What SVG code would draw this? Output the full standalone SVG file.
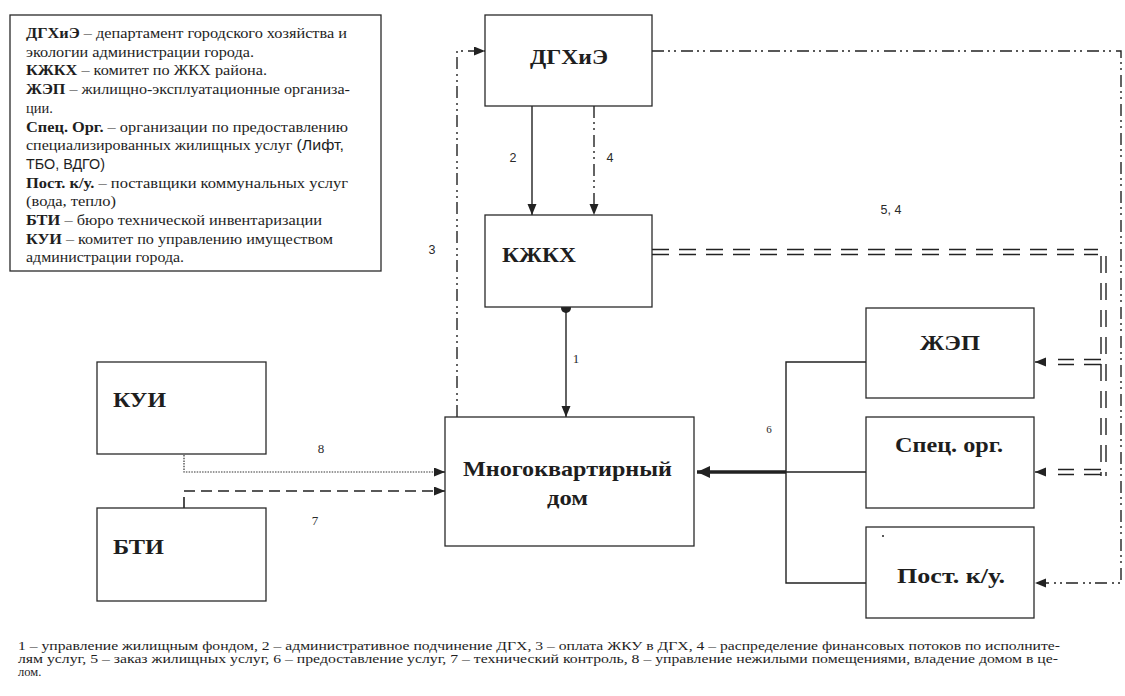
<svg xmlns="http://www.w3.org/2000/svg" width="1125" height="696" viewBox="0 0 1125 696">
<style>
.box{fill:#fff;stroke:#2a2a2a;stroke-width:1.3}
.b{font-weight:bold}
.ln{fill:none;stroke:#222;stroke-width:1.4}
.dd{fill:none;stroke:#222;stroke-width:1.4;stroke-dasharray:12 4 2 4 2 5}
.dbl{fill:none;stroke:#222;stroke-width:1.6;stroke-dasharray:17 10}
.dblv{fill:none;stroke:#222;stroke-width:1.4;stroke-dasharray:17 10}
.dot{fill:none;stroke:#333;stroke-width:1.2;stroke-dasharray:1.5 1.2}
.dash{fill:none;stroke:#222;stroke-width:1.6;stroke-dasharray:11 6}
</style>
<defs>
<marker id="ah" markerUnits="userSpaceOnUse" markerWidth="12" markerHeight="10" refX="11" refY="4.5" orient="auto">
<path d="M0,0 L11,4.5 L0,9 z" fill="#222"/>
</marker>
<marker id="ahb" markerUnits="userSpaceOnUse" markerWidth="14" markerHeight="12" refX="13" refY="6" orient="auto">
<path d="M0,0 L13,6 L0,12 z" fill="#222"/>
</marker>
</defs>
<rect width="1125" height="696" fill="#fff"/>

<g id="legend" font-family="Liberation Serif, serif" font-size="14.5" fill="#1e1e1e">
<rect x="10" y="15" width="371" height="256" class="box"/>
<text x="26" y="38" textLength="321" lengthAdjust="spacingAndGlyphs"><tspan font-weight="bold">ДГХиЭ</tspan> – департамент городского хозяйства и</text>
<text x="26" y="56.7" textLength="228" lengthAdjust="spacingAndGlyphs">экологии администрации города.</text>
<text x="26" y="75.4" textLength="241" lengthAdjust="spacingAndGlyphs"><tspan font-weight="bold">КЖКХ</tspan> – комитет по ЖКХ района.</text>
<text x="26" y="94.1" textLength="324" lengthAdjust="spacingAndGlyphs"><tspan font-weight="bold">ЖЭП</tspan> – жилищно-эксплуатационные организа-</text>
<text x="26" y="112.8">ции.</text>
<text x="26" y="131.5" textLength="322" lengthAdjust="spacingAndGlyphs"><tspan font-weight="bold">Спец. Орг.</tspan> – организации по предоставлению</text>
<text x="26" y="150.2" textLength="318" lengthAdjust="spacingAndGlyphs">специализированных жилищных услуг <tspan font-family="Liberation Sans, sans-serif">(Лифт,</tspan></text>
<text x="26" y="168.9" font-family="Liberation Sans, sans-serif" textLength="79" lengthAdjust="spacingAndGlyphs">ТБО, ВДГО)</text>
<text x="26" y="187.6" textLength="322" lengthAdjust="spacingAndGlyphs"><tspan font-weight="bold">Пост.  к/у.</tspan> – поставщики коммунальных услуг</text>
<text x="26" y="206.3" textLength="90" lengthAdjust="spacingAndGlyphs">(вода, тепло)</text>
<text x="26" y="225" textLength="296" lengthAdjust="spacingAndGlyphs"><tspan font-weight="bold">БТИ</tspan> – бюро технической инвентаризации</text>
<text x="26" y="243.7" textLength="307" lengthAdjust="spacingAndGlyphs"><tspan font-weight="bold">КУИ</tspan> – комитет по управлению имуществом</text>
<text x="26" y="262.4" textLength="158" lengthAdjust="spacingAndGlyphs">администрации города.</text>
</g>

<g id="connectors">
<path class="ln" d="M532,106 V215" marker-end="url(#ah)"/>
<path class="dd" d="M594,106 V215" marker-end="url(#ah)"/>
<circle cx="566" cy="308" r="5" fill="#222"/>
<path class="ln" d="M566,308 V417" marker-end="url(#ah)"/>
<path class="dd" d="M457,417 V51 H485" marker-end="url(#ah)"/>
<path class="dd" d="M652,51 H1121 V583 H1035" marker-end="url(#ah)"/>
<path class="dbl" d="M652,249.5 H1098"/>
<path class="dbl" d="M652,254.5 H1098"/>
<path class="dblv" d="M1101,256 V476"/>
<path class="dblv" d="M1106,256 V476"/>
<path class="dbl" d="M1101,359.5 H1058"/>
<path class="dbl" d="M1101,364.5 H1058"/>
<path class="dbl" d="M1101,469.5 H1058"/>
<path class="dbl" d="M1101,474.5 H1058"/>
<path class="ln" d="M1046,362 H1035" marker-end="url(#ah)"/>
<path class="ln" d="M1046,472 H1035" marker-end="url(#ah)"/>
<path class="ln" d="M866,362 H786 V583 H866 M786,472 H866"/>
<path fill="none" stroke="#222" stroke-width="3.5" d="M786,472 H697" marker-end="url(#ahb)"/>
<path class="dot" d="M184,455 V472 H435"/>
<path class="ln" d="M436,472 H445" marker-end="url(#ah)"/>
<path class="dash" d="M184,508 V491 H436"/>
<path class="ln" d="M436,491 H445" marker-end="url(#ah)"/>
</g>

<g id="labels" fill="#2a2a2a" text-anchor="middle">
<g font-family="Liberation Sans, sans-serif" font-size="12.5">
<text x="513" y="162">2</text>
<text x="610" y="162">4</text>
<text x="432" y="254">3</text>
<text x="891" y="214">5, 4</text>
</g>
<g font-family="Liberation Serif, serif" font-size="13">
<text x="576" y="363">1</text>
<text x="769" y="433" font-size="11">6</text>
<text x="321" y="453">8</text>
<text x="315" y="525">7</text>
</g>
</g>

<g id="nodes" font-family="Liberation Serif, serif" font-weight="bold" font-size="22" fill="#1e1e1e">
<g id="n-dgh">
<rect x="485" y="15" width="167" height="91" class="box"/>
<text x="530" y="64" textLength="78" lengthAdjust="spacingAndGlyphs">ДГХиЭ</text>
</g>
<g id="n-kjkh">
<rect x="485" y="215" width="167" height="92" class="box"/>
<text x="502" y="262" textLength="74" lengthAdjust="spacingAndGlyphs">КЖКХ</text>
</g>
<g id="n-dom">
<rect x="445" y="417" width="249" height="129" class="box"/>
<text x="463" y="476" textLength="209" lengthAdjust="spacingAndGlyphs">Многоквартирный</text>
<text x="547" y="505" textLength="41" lengthAdjust="spacingAndGlyphs">дом</text>
</g>
<g id="n-kui">
<rect x="97" y="362" width="169" height="92" class="box"/>
<text x="113" y="407" textLength="53" lengthAdjust="spacingAndGlyphs">КУИ</text>
</g>
<g id="n-bti">
<rect x="97" y="508" width="169" height="93" class="box"/>
<text x="113" y="554" textLength="51" lengthAdjust="spacingAndGlyphs">БТИ</text>
</g>
<g id="n-jep">
<rect x="866" y="308" width="168" height="90" class="box"/>
<text x="920" y="350" textLength="60" lengthAdjust="spacingAndGlyphs">ЖЭП</text>
</g>
<g id="n-spec">
<rect x="866" y="417" width="168" height="91" class="box"/>
<text x="895" y="452" textLength="108" lengthAdjust="spacingAndGlyphs">Спец. орг.</text>
</g>
<g id="n-post">
<rect x="866" y="527" width="168" height="91" class="box"/>
<circle cx="883" cy="536" r="1" fill="#222"/>
<text x="897" y="583" textLength="108" lengthAdjust="spacingAndGlyphs">Пост. к/у.</text>
</g>
</g>

<g id="footer" font-family="Liberation Serif, serif" font-size="12.5" fill="#1e1e1e">
<text x="18" y="650" textLength="1042" lengthAdjust="spacingAndGlyphs">1 – управление жилищным фондом, 2 – административное подчинение ДГХ, 3 – оплата ЖКУ в ДГХ, 4 – распределение финансовых потоков по исполните-</text>
<text x="18" y="663" textLength="1040" lengthAdjust="spacingAndGlyphs">лям услуг, 5 – заказ жилищных услуг, 6 – предоставление услуг, 7 – технический контроль, 8 – управление нежилыми помещениями, владение домом в це-</text>
<text x="18" y="676">лом.</text>
</g>
</svg>
